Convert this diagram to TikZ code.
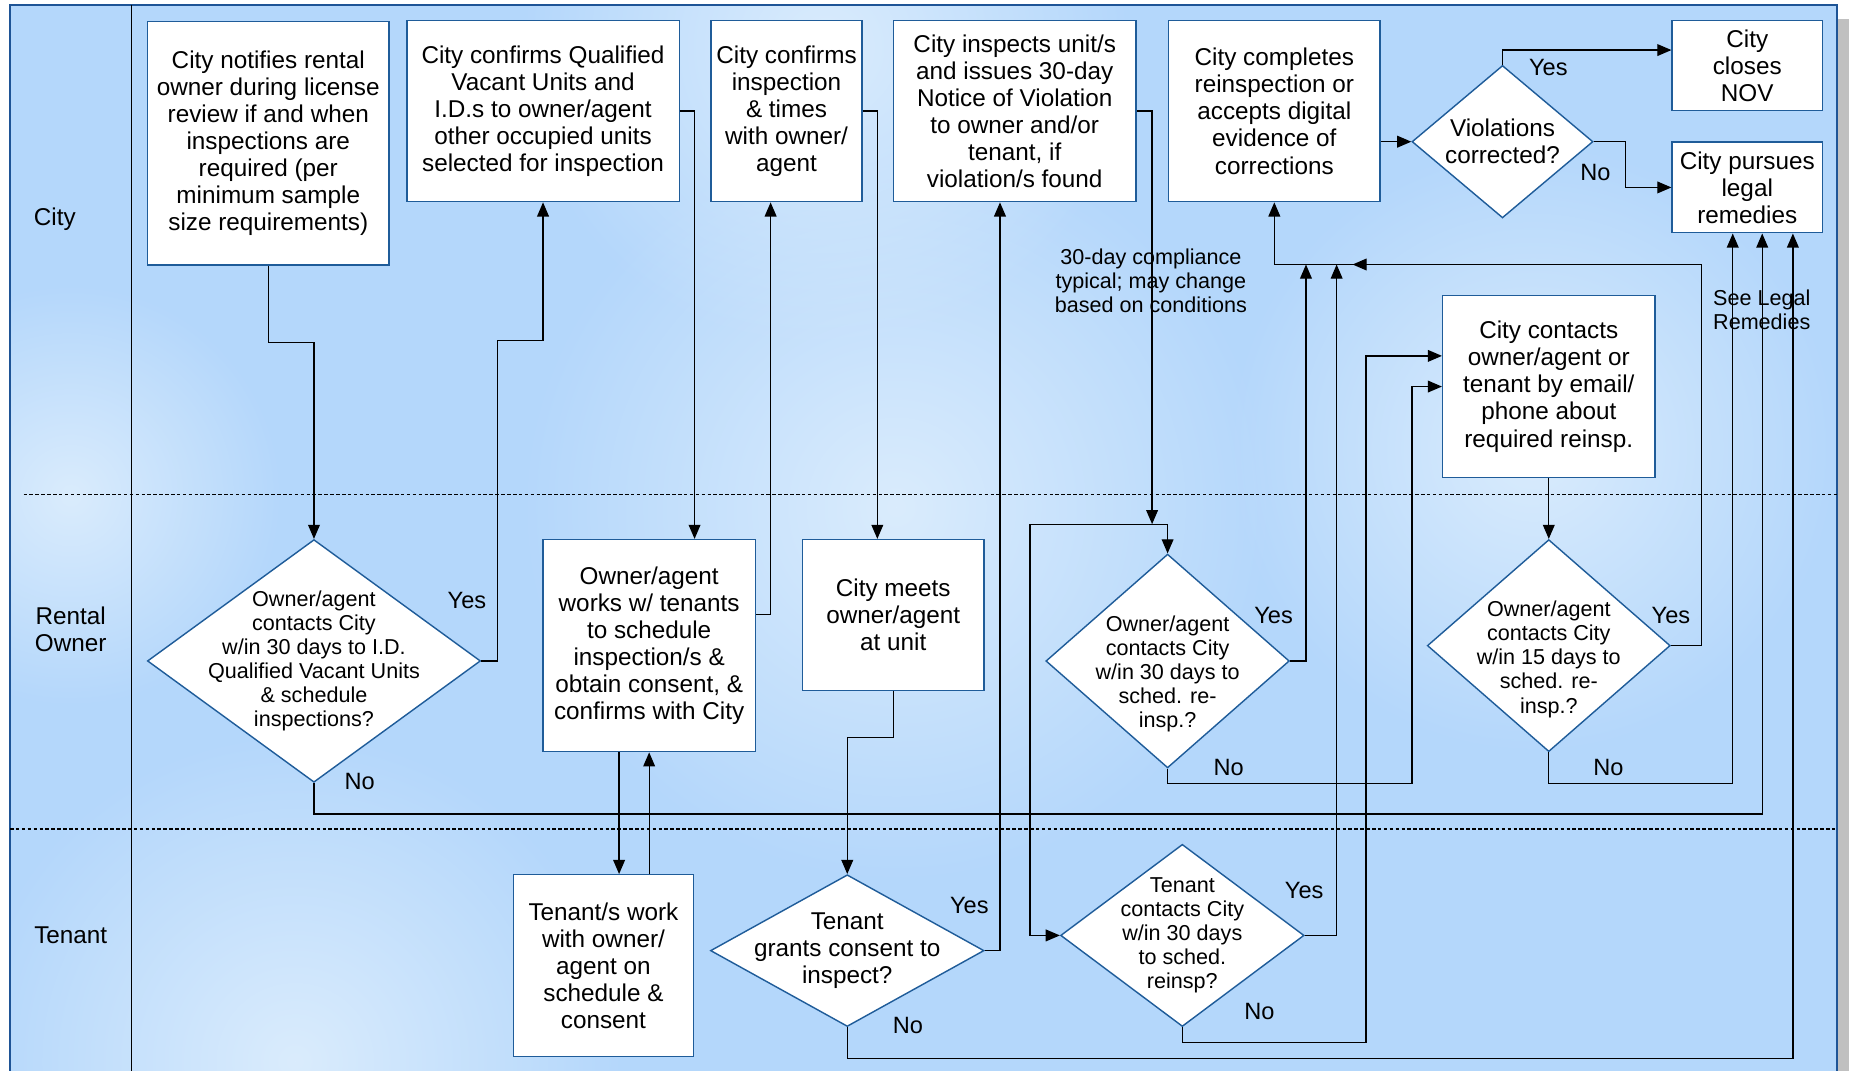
\documentclass[tikz,border=0pt]{standalone}
\usepackage{fontspec}
\setmainfont{Liberation Sans}
\usetikzlibrary{shapes.geometric,arrows.meta,calc,fadings}
\definecolor{bgc}{RGB}{180,215,251}
\definecolor{bgl}{RGB}{218,236,253}
\definecolor{boxblue}{RGB}{31,92,153}
\definecolor{framec}{RGB}{30,84,150}
\definecolor{shadowc}{RGB}{192,192,192}
\newcommand\boxfont{\fontsize{20.6}{23}\selectfont}
\newcommand\diafont{\fontsize{18.3}{20.5}\selectfont}
\newcommand\ynfont{\fontsize{20}{23}\selectfont}
\tikzfading[name=softspot, inner color=transparent!0, outer color=transparent!100]
\begin{document}
\begin{tikzpicture}[x=1pt,y=-1pt,
  boxn/.style={rectangle,draw=boxblue,fill=white,line width=1.2pt,inner sep=0pt,align=center,font=\boxfont},
  dia/.style={diamond,draw=boxblue,fill=white,line width=1.2pt,inner sep=0pt},
  dtext/.style={align=center,font=\diafont,inner sep=0pt},
  dtextb/.style={align=center,font=\boxfont,inner sep=0pt},
  arr/.style={line width=1.1pt,-{Triangle[length=12pt,width=10pt]}},
  yn/.style={font=\ynfont,inner sep=0pt},
  lane/.style={font=\boxfont,align=center,inner sep=0pt},
  note/.style={font=\diafont,align=center,inner sep=0pt},
  lanesep/.style={line width=1pt,dash pattern=on 3pt off 2pt},
  spot/.style={fill=bgl,path fading=softspot}]
\useasboundingbox (0,0) rectangle (1568,908);
\clip (0,0) rectangle (1568,908);
% background and frame
\fill[white] (0,0) rectangle (1568,908);
\fill[shadowc] (1559,16) rectangle (1568,908);
\fill[bgc] (8.5,4) rectangle (1558,930);
\begin{scope}
\clip (8.5,4) rectangle (1558,930);
\fill[spot] (760,430) circle (320);
\fill[spot] (700,40) circle (260);
\fill[spot] (250,900) circle (280);
\fill[spot] (1300,380) circle (260);
\fill[spot] (60,420) circle (180);
\end{scope}
\draw[framec,line width=1.6pt] (8.5,930) -- (8.5,4) -- (1558,4) -- (1558,930);
\draw[line width=1.2pt] (111.7,4) -- (111.7,930);
\draw[lanesep] (20,419) -- (1558,419);
\draw[lanesep] (8.5,703) -- (1558,703);
% lane labels
\node[lane] (lcity) at (46.5,186) {City};
\node[lane] (lowner) at (60,534) {Rental\\Owner};
\node[lane] (ltenant) at (60,793) {Tenant};
% nodes
\node[boxn,minimum width=205pt,minimum height=206.5pt] (b1) at (227.5,121.5)
  {City notifies rental\\owner during license\\review if and when\\inspections are\\required (per\\minimum sample\\size requirements)};
\node[boxn,minimum width=231pt,minimum height=153.5pt] (b2) at (460.5,94.25)
  {City confirms Qualified\\Vacant Units and\\I.D.s to owner/agent\\other occupied units\\selected for inspection};
\node[boxn,minimum width=128pt,minimum height=153.5pt] (b3) at (667,94.25)
  {City confirms\\inspection\\\& times\\with owner/\\agent};
\node[boxn,minimum width=206pt,minimum height=153.5pt] (b4) at (860.5,94.25)
  {City inspects unit/s\\and issues 30-day\\Notice of Violation\\to owner and/or\\tenant, if\\violation/s found};
\node[boxn,minimum width=179.5pt,minimum height=153.5pt] (b5) at (1080.65,94.25)
  {City completes\\reinspection or\\accepts digital\\evidence of\\corrections};
\node[boxn,minimum width=127.4pt,minimum height=76.1pt] (nov) at (1481.7,55.55)
  {City\\closes\\NOV};
\node[boxn,minimum width=127.4pt,minimum height=76.9pt] (lg) at (1481.7,158.95)
  {City pursues\\legal\\remedies};
\node[dia,minimum width=153.5pt,minimum height=129.3pt] (dV) at (1274.15,120.15) {};
\node[boxn,minimum width=180pt,minimum height=154.4pt] (cb) at (1313.4,327.8)
  {City contacts\\owner/agent or\\tenant by email/\\phone about\\required reinsp.};
\node[dia,minimum width=282.5pt,minimum height=205.8pt] (d1) at (266.25,560.5) {};
\node[boxn,minimum width=180pt,minimum height=179.8pt] (ow) at (550.5,547.5)
  {Owner/agent\\works w/ tenants\\to schedule\\inspection/s \&\\obtain consent, \&\\confirms with City};
\node[boxn,minimum width=154pt,minimum height=127.8pt] (cm) at (757.45,521.5)
  {City meets\\owner/agent\\at unit};
\node[dia,minimum width=206.5pt,minimum height=181.3pt] (d2) at (990.15,560.55) {};
\node[dia,minimum width=206pt,minimum height=179.8pt] (d3) at (1313.4,547.5) {};
\node[boxn,minimum width=152.5pt,minimum height=154.2pt] (tb) at (511.75,818.9)
  {Tenant/s work\\with owner/\\agent on\\schedule \&\\consent};
\node[dia,minimum width=232pt,minimum height=128.7pt] (tD1) at (718.5,806.15) {};
\node[dia,minimum width=206.5pt,minimum height=154.5pt] (tD2) at (1002.65,793.25) {};
% diamond texts
\node[dtextb] (tV) at (dV.center) {Violations\\corrected?};
\node[dtext] (t1) at (d1.center) {Owner/agent\\contacts City\\w/in 30 days to I.D.\\Qualified Vacant Units\\\& schedule\\inspections?};
\node[dtext] (t2) at ($(d2.center)+(0,11)$) {Owner/agent\\contacts City\\w/in 30 days to\\sched. re-\\insp.?};
\node[dtext] (t3) at ($(d3.center)+(0,11.5)$) {Owner/agent\\contacts City\\w/in 15 days to\\sched. re-\\insp.?};
\node[dtextb] (tt1) at (tD1.center) {Tenant\\grants consent to\\inspect?};
\node[dtext] (tt2) at (tD2.center) {Tenant\\contacts City\\w/in 30 days\\to sched.\\reinsp?};
% connectors
\coordinate (jn2) at (977,444.5);
\coordinate (jl) at (873.4,444.5);
\coordinate (mj) at (1147,224.3);
\draw[arr] (b1.south) -- ++(0,65) -| (d1.north);
\draw[arr] (d1.east) -- ++(14,0) -- ++(0,-271.5) -| (b2.south);
\draw[arr] (b2.east) -| ($(ow.north)+(38.5,0)$);
\draw[arr] ($(ow.east)+(0,-26.5)$) -| ($(b3.south)+(-13.5,0)$);
\draw[arr] (b3.east) -| ($(cm.north)+(-13.45,0)$);
\draw[arr] (cm.south) -- ++(0,39.5) -| (tD1.north);
\draw[arr] ($(ow.south)+(-25.5,0)$) -- ($(tb.north)+(13.25,0)$);
\draw[arr] ($(tb.north)+(38.75,0)$) -- (ow.south);
\draw[arr] (tD1.east) -| ($(b4.south)+(-12.5,0)$);
\draw[arr] (tD1.south) -- ++(0,26.3) -| ($(lg.south)+(38.7,0)$);
\draw[arr] (d1.south) -- ++(0,26.4) -| ($(lg.south)+(12.7,0)$);
\draw[arr] (b4.east) -| (jn2);
\draw[arr] (jl) -| (d2.north);
\draw[arr] (jl) |- (tD2.west);
\draw[arr] (d2.east) -- ++(13.5,0) -- ++(0,-336.25);
\draw[arr] (tD2.east) -- ++(27,0) -- ++(0,-568.95);
\draw[arr] (d3.east) -- ++(26,0) -- ++(0,-323.2) -- (mj);
\draw[arr] (mj) -| (b5.south);
\draw[arr] (d2.south) -- ++(0,12.5) -- ++(207.25,0) |- (cb.west);
\draw[arr] (tD2.south) -- ++(0,13.1) -- ++(155.75,0) |- ($(cb.west)+(0,-26)$);
\draw[arr] (cb.south) -- (d3.north);
\draw[arr] (d3.south) -- ++(0,26.3) -| ($(lg.south)+(-12.3,0)$);
\draw[arr] (b5.east |- dV.west) -- (dV.west);
\draw[arr] (dV.north) |- ($(nov.west)+(0,-13.1)$);
\draw[arr] (dV.east) -- ++(27,0) |- (lg.west);
% labels
\node[yn] (y1) at (396,509) {Yes};
\node[yn] (n1) at (305,663) {No};
\node[yn] (yV) at (1313,57) {Yes};
\node[yn] (nV) at (1353,146) {No};
\node[yn] (y2) at (1080,522) {Yes};
\node[yn] (n2) at (1042,651) {No};
\node[yn] (y3) at (1417,522) {Yes};
\node[yn] (n3) at (1364,651) {No};
\node[yn] (yt1) at (822,767.5) {Yes};
\node[yn] (nt1) at (770,870) {No};
\node[yn] (yt2) at (1106,755) {Yes};
\node[yn] (nt2) at (1068,858) {No};
\node[note] (cnote) at (976,238) {30-day compliance\\typical; may change\\based on conditions};
\node[note] (lnote) at (1494,263) {See Legal\\Remedies};
\end{tikzpicture}
\end{document}
